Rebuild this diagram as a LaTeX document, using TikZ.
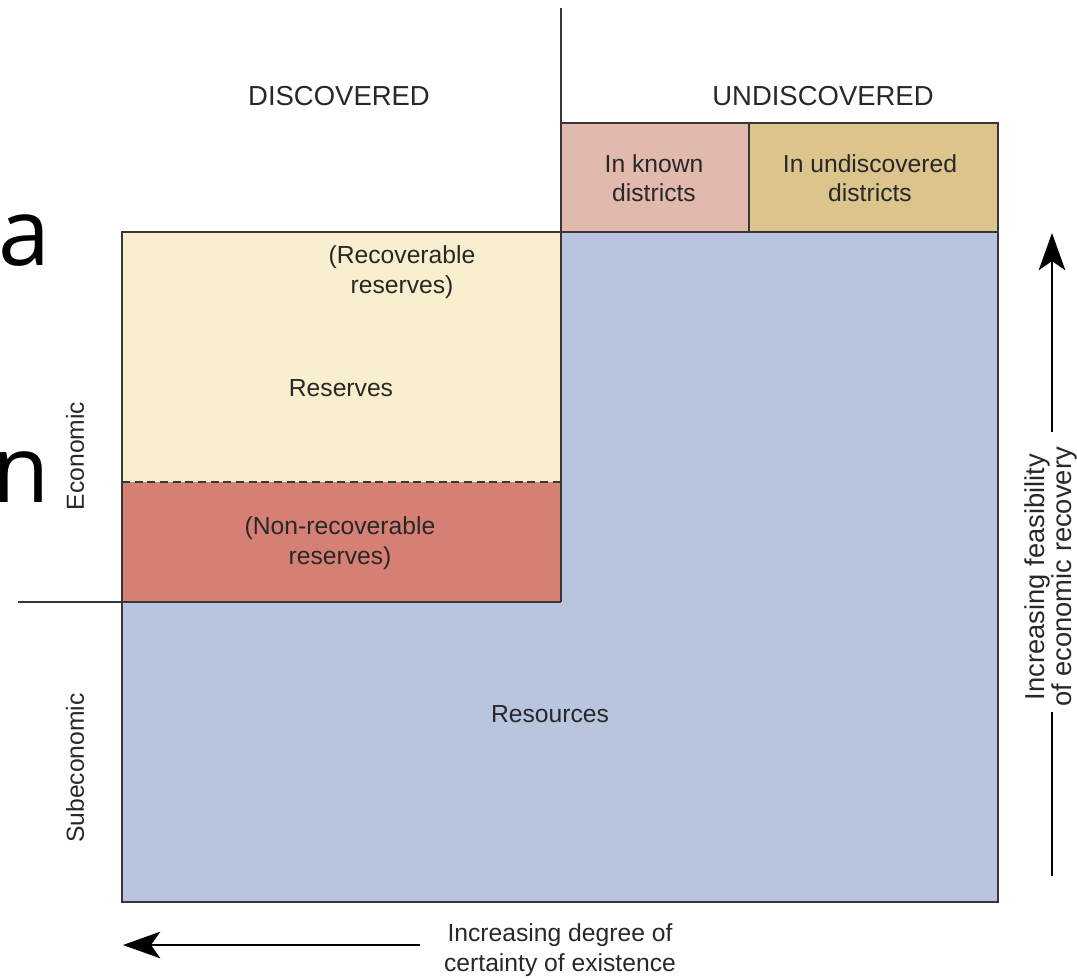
\documentclass[tikz,border=0pt]{standalone}
\usepackage{fontspec}
\setmainfont{Liberation Sans}
\newfontfamily\slidefont{Open Sans}
\usetikzlibrary{arrows.meta}
\definecolor{resyellow}{RGB}{249,238,205}
\definecolor{resred}{RGB}{213,127,117}
\definecolor{resblue}{RGB}{185,196,222}
\definecolor{respink}{RGB}{226,185,173}
\definecolor{restan}{RGB}{219,197,141}
\definecolor{resline}{RGB}{55,55,55}
\definecolor{restext}{RGB}{40,40,40}
\tikzset{
  border/.style={draw=resline, line width=1.3pt},
  lbl/.style={text=restext, font=\fontsize{18.5pt}{22pt}\selectfont, align=center, inner sep=0pt},
  head/.style={text=restext, font=\fontsize{20.6pt}{24pt}\selectfont, inner sep=0pt},
  arr/.style={draw=black, line width=1.1pt, -{Stealth[length=28pt,width=20pt,inset=7pt]}},
  plain/.style={draw=black, line width=1.1pt},
}
\begin{document}
\begin{tikzpicture}[x=0.75pt,y=-0.75pt]
\useasboundingbox (0,0) rectangle (1077,978);
% slide fragments
\node[anchor=base west, inner sep=0pt, font=\slidefont\fontsize{70pt}{70pt}\selectfont] (fa) at (-2,265) {a};
\node[anchor=base west, inner sep=0pt, font=\slidefont\fontsize{70pt}{70pt}\selectfont] (fn) at (-8,502) {n};
% boxes
\fill[resblue] (122,232) rectangle (998,902);
\fill[resyellow] (122,232) rectangle (561,482);
\fill[resred] (122,482) rectangle (561,602);
\fill[respink] (561,123) rectangle (749,232);
\fill[restan] (749,123) rectangle (998,232);
\draw[border] (561,8) -- (561,602);
\draw[border] (561,123) -- (998,123) -- (998,902) -- (122,902) -- (122,232) -- (561,232) -- (998,232);
\draw[border] (749,123) -- (749,232);
\draw[border] (18,602) -- (561,602);
\draw[resline, line width=1.1pt, dash pattern=on 6pt off 3.5pt] (122,482) -- (561,482);
% headings
\node[head] (disc) at (339,96) {DISCOVERED};
\node[head] (undisc) at (823,96) {UNDISCOVERED};
% labels
\node[lbl] (known) at (654,178) {In known\\districts};
\node[lbl] (undist) at (870,178) {In undiscovered\\districts};
\node[lbl] (recov) at (402,272) {(Recoverable\\reserves)};
\node[lbl] (reserves) at (341,388) {Reserves};
\node[lbl] (nonrecov) at (340,543) {(Non-recoverable\\reserves)};
\node[lbl] (resources) at (550,714) {Resources};
\node[lbl, rotate=90] (econ) at (75,456) {Economic};
\node[lbl, rotate=90] (subecon) at (75,768) {Subeconomic};
% right axis
\node[lbl, rotate=90, font=\fontsize{20.5pt}{20pt}\selectfont] (feas) at (1051,577) {Increasing feasibility\\of economic recovery};
\coordinate (ra1) at (1052,432);
\coordinate (ra2) at (1052,233);
\coordinate (ra3) at (1052,712);
\coordinate (ra4) at (1052,876);
\draw[arr] (ra1) -- (ra2);
\draw[plain] (ra3) -- (ra4);
% bottom axis
\node[lbl] (cert) at (560,950) {Increasing degree of\\certainty of existence};
\coordinate (ba1) at (420,945);
\coordinate (ba2) at (123,945);
\draw[arr] (ba1) -- (ba2);
\end{tikzpicture}
\end{document}
